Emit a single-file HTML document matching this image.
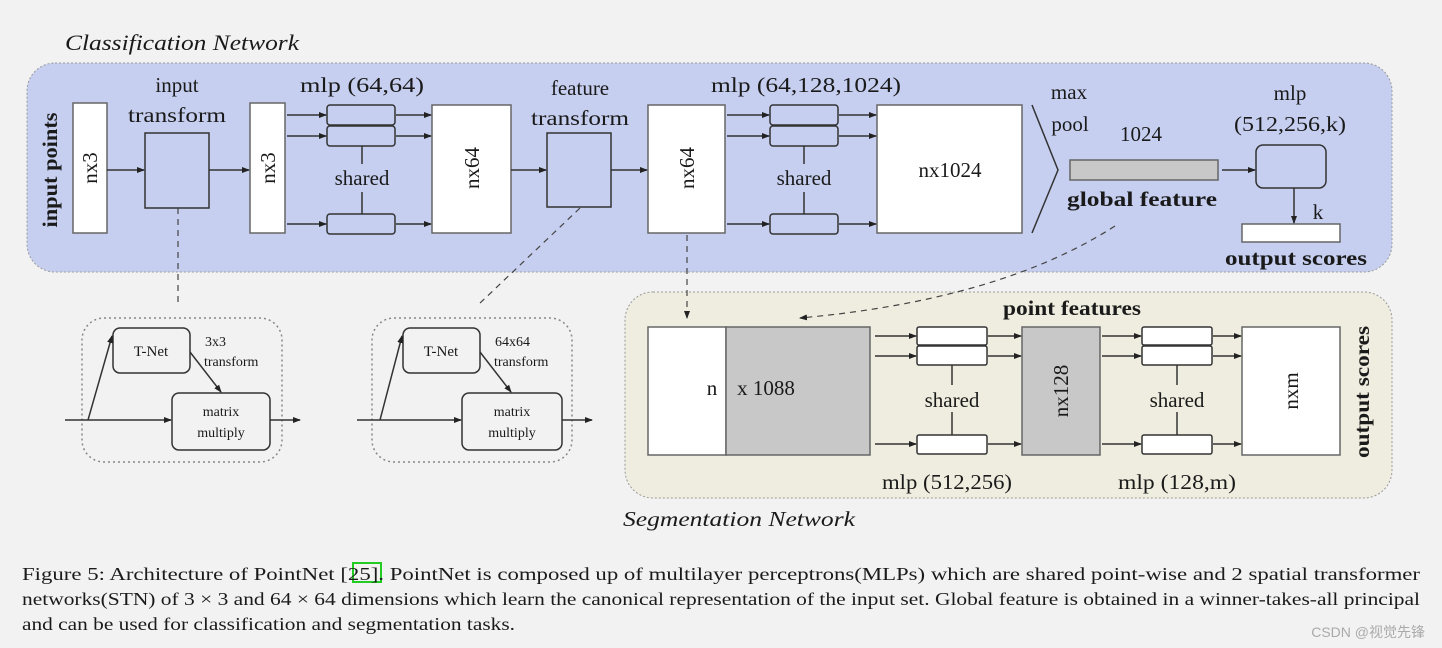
<!DOCTYPE html>
<html><head><meta charset="utf-8"><style>
html,body{margin:0;padding:0;background:#f2f2f2;}
svg{display:block;}
text{font-family:"Liberation Serif","Times New Roman",serif;fill:#1a1a1a;}
.b{font-weight:bold;}
</style></head><body>
<svg width="1442" height="648" viewBox="0 0 1442 648" xmlns="http://www.w3.org/2000/svg">
<defs>
<marker id="a" markerWidth="8" markerHeight="8" refX="7" refY="4" orient="auto" markerUnits="userSpaceOnUse"><path d="M0,1 L8,4 L0,7 z" fill="#222"/></marker>
</defs>
<rect width="1442" height="648" fill="#f2f2f2"/>
<text x="65" y="50" font-size="22" font-style="italic" textLength="234" lengthAdjust="spacingAndGlyphs">Classification Network</text>
<rect x="27" y="63" width="1365" height="209" rx="28" fill="#c6cff0" stroke="#999" stroke-dasharray="2,2"/>
<rect x="625" y="292" width="767" height="206" rx="28" fill="#efeddf" stroke="#999" stroke-dasharray="2,2"/>
<g stroke="#333" stroke-width="1.5" fill="none">
<rect x="73" y="103" width="34" height="130" fill="#fff" stroke="#666"/>
<rect x="145" y="133" width="64" height="75" fill="#c6cff0"/>
<rect x="250" y="103" width="35" height="130" fill="#fff" stroke="#666"/>
<rect x="327" y="105" width="68" height="20" rx="3" fill="#c6cff0"/>
<rect x="327" y="126" width="68" height="20" rx="3" fill="#c6cff0"/>
<rect x="327" y="214" width="68" height="20" rx="3" fill="#c6cff0"/>
<line x1="362" y1="146" x2="362" y2="164"/><line x1="362" y1="192" x2="362" y2="214"/>
<rect x="432" y="105" width="79" height="128" fill="#fff" stroke="#666"/>
<rect x="547" y="133" width="64" height="74" fill="#c6cff0"/>
<rect x="648" y="105" width="77" height="128" fill="#fff" stroke="#666"/>
<rect x="770" y="105" width="68" height="20" rx="3" fill="#c6cff0"/>
<rect x="770" y="126" width="68" height="20" rx="3" fill="#c6cff0"/>
<rect x="770" y="214" width="68" height="20" rx="3" fill="#c6cff0"/>
<line x1="804" y1="146" x2="804" y2="164"/><line x1="804" y1="192" x2="804" y2="214"/>
<rect x="877" y="105" width="145" height="128" fill="#fff" stroke="#666"/>
<polyline points="1032,105 1058,170 1032,233"/>
<rect x="1070" y="160" width="148" height="20" fill="#c8c8c8" stroke="#666"/>
<rect x="1256" y="145" width="70" height="43" rx="7" fill="#c6cff0"/>
<rect x="1242" y="224" width="98" height="18" fill="#fff" stroke="#666"/>
<line x1="107" y1="170" x2="144" y2="170" marker-end="url(#a)"/>
<line x1="209" y1="170" x2="249" y2="170" marker-end="url(#a)"/>
<line x1="287" y1="115" x2="326" y2="115" marker-end="url(#a)"/>
<line x1="287" y1="136" x2="326" y2="136" marker-end="url(#a)"/>
<line x1="287" y1="224" x2="326" y2="224" marker-end="url(#a)"/>
<line x1="396" y1="115" x2="431" y2="115" marker-end="url(#a)"/>
<line x1="396" y1="136" x2="431" y2="136" marker-end="url(#a)"/>
<line x1="396" y1="224" x2="431" y2="224" marker-end="url(#a)"/>
<line x1="511" y1="170" x2="546" y2="170" marker-end="url(#a)"/>
<line x1="611" y1="170" x2="647" y2="170" marker-end="url(#a)"/>
<line x1="727" y1="115" x2="769" y2="115" marker-end="url(#a)"/>
<line x1="727" y1="136" x2="769" y2="136" marker-end="url(#a)"/>
<line x1="727" y1="224" x2="769" y2="224" marker-end="url(#a)"/>
<line x1="839" y1="115" x2="876" y2="115" marker-end="url(#a)"/>
<line x1="839" y1="136" x2="876" y2="136" marker-end="url(#a)"/>
<line x1="839" y1="224" x2="876" y2="224" marker-end="url(#a)"/>
<line x1="1222" y1="170" x2="1255" y2="170" marker-end="url(#a)"/>
<line x1="1294" y1="188" x2="1294" y2="223" marker-end="url(#a)"/>
<g stroke-dasharray="6,5" stroke="#444" stroke-width="1.2">
<line x1="178" y1="208" x2="178" y2="302"/>
<line x1="580" y1="208" x2="478" y2="305"/>
<line x1="687" y1="235" x2="687" y2="318" marker-end="url(#a)"/>
<path d="M1115,226 Q1000,300 800,318" marker-end="url(#a)"/>
</g>
<rect x="82" y="318" width="200" height="144" rx="22" stroke="#888" stroke-dasharray="2,3"/>
<rect x="113" y="328" width="77" height="45" rx="7" fill="#f2f2f2"/>
<rect x="172" y="393" width="98" height="57" rx="7" fill="#f2f2f2"/>
<line x1="65" y1="420" x2="171" y2="420" marker-end="url(#a)"/>
<line x1="88" y1="420" x2="112" y2="336" marker-end="url(#a)"/>
<line x1="190" y1="352" x2="221" y2="392" marker-end="url(#a)"/>
<line x1="270" y1="420" x2="300" y2="420" marker-end="url(#a)"/>
<rect x="372" y="318" width="200" height="144" rx="22" stroke="#888" stroke-dasharray="2,3"/>
<rect x="403" y="328" width="77" height="45" rx="7" fill="#f2f2f2"/>
<rect x="462" y="393" width="100" height="57" rx="7" fill="#f2f2f2"/>
<line x1="357" y1="420" x2="461" y2="420" marker-end="url(#a)"/>
<line x1="380" y1="420" x2="402" y2="336" marker-end="url(#a)"/>
<line x1="480" y1="352" x2="511" y2="392" marker-end="url(#a)"/>
<line x1="562" y1="420" x2="592" y2="420" marker-end="url(#a)"/>
<rect x="648" y="327" width="78" height="128" fill="#fff" stroke="#666"/>
<rect x="726" y="327" width="144" height="128" fill="#c8c8c8" stroke="#666"/>
<rect x="917" y="327" width="70" height="18" rx="2" fill="#fff"/>
<rect x="917" y="346" width="70" height="19" rx="2" fill="#fff"/>
<rect x="917" y="435" width="70" height="19" rx="2" fill="#fff"/>
<line x1="952" y1="365" x2="952" y2="385"/><line x1="952" y1="412" x2="952" y2="435"/>
<rect x="1022" y="327" width="78" height="128" fill="#c8c8c8" stroke="#666"/>
<rect x="1142" y="327" width="70" height="18" rx="2" fill="#fff"/>
<rect x="1142" y="346" width="70" height="19" rx="2" fill="#fff"/>
<rect x="1142" y="435" width="70" height="19" rx="2" fill="#fff"/>
<line x1="1177" y1="365" x2="1177" y2="385"/><line x1="1177" y1="412" x2="1177" y2="435"/>
<rect x="1242" y="327" width="98" height="128" fill="#fff" stroke="#666"/>
<line x1="875" y1="336" x2="916" y2="336" marker-end="url(#a)"/>
<line x1="875" y1="356" x2="916" y2="356" marker-end="url(#a)"/>
<line x1="875" y1="444" x2="916" y2="444" marker-end="url(#a)"/>
<line x1="988" y1="336" x2="1021" y2="336" marker-end="url(#a)"/>
<line x1="988" y1="356" x2="1021" y2="356" marker-end="url(#a)"/>
<line x1="988" y1="444" x2="1021" y2="444" marker-end="url(#a)"/>
<line x1="1102" y1="336" x2="1141" y2="336" marker-end="url(#a)"/>
<line x1="1102" y1="356" x2="1141" y2="356" marker-end="url(#a)"/>
<line x1="1102" y1="444" x2="1141" y2="444" marker-end="url(#a)"/>
<line x1="1213" y1="336" x2="1241" y2="336" marker-end="url(#a)"/>
<line x1="1213" y1="356" x2="1241" y2="356" marker-end="url(#a)"/>
<line x1="1213" y1="444" x2="1241" y2="444" marker-end="url(#a)"/>
</g>
<g font-size="21" text-anchor="middle">
<text x="50" y="170" class="b" transform="rotate(-90 50 170)" dy="7" textLength="115" lengthAdjust="spacingAndGlyphs">input points</text>
<text x="90" y="168" transform="rotate(-90 90 168)" dy="7">nx3</text>
<text x="268" y="168" transform="rotate(-90 268 168)" dy="7">nx3</text>
<text x="472" y="168" transform="rotate(-90 472 168)" dy="7">nx64</text>
<text x="687" y="168" transform="rotate(-90 687 168)" dy="7">nx64</text>
<text x="177" y="92">input</text>
<text x="177" y="122" textLength="98" lengthAdjust="spacingAndGlyphs">transform</text>
<text x="362" y="92" textLength="124" lengthAdjust="spacingAndGlyphs">mlp (64,64)</text>
<text x="362" y="185">shared</text>
<text x="580" y="95">feature</text>
<text x="580" y="125" textLength="98" lengthAdjust="spacingAndGlyphs">transform</text>
<text x="806" y="92" textLength="190" lengthAdjust="spacingAndGlyphs">mlp (64,128,1024)</text>
<text x="804" y="185">shared</text>
<text x="950" y="177">nx1024</text>
<text x="1069" y="99">max</text>
<text x="1070" y="131">pool</text>
<text x="1141" y="141">1024</text>
<text x="1142" y="206" class="b" textLength="150" lengthAdjust="spacingAndGlyphs">global feature</text>
<text x="1290" y="100">mlp</text>
<text x="1290" y="131" textLength="112" lengthAdjust="spacingAndGlyphs">(512,256,k)</text>
<text x="1318" y="219">k</text>
<text x="1296" y="265" class="b" textLength="142" lengthAdjust="spacingAndGlyphs">output scores</text>
<text x="1072" y="315" class="b" textLength="138" lengthAdjust="spacingAndGlyphs">point features</text>
<text x="712" y="395">n</text>
<text x="766" y="395">x 1088</text>
<text x="952" y="407">shared</text>
<text x="1177" y="407">shared</text>
<text x="1061" y="391" transform="rotate(-90 1061 391)" dy="7">nx128</text>
<text x="1291" y="391" transform="rotate(-90 1291 391)" dy="7">nxm</text>
<text x="1362" y="392" class="b" transform="rotate(-90 1362 392)" dy="7" textLength="132" lengthAdjust="spacingAndGlyphs">output scores</text>
<text x="947" y="489" textLength="130" lengthAdjust="spacingAndGlyphs">mlp (512,256)</text>
<text x="1177" y="489" textLength="118" lengthAdjust="spacingAndGlyphs">mlp (128,m)</text>
</g>
<g font-size="14">
<text x="151" y="356" text-anchor="middle" font-size="15">T-Net</text>
<text x="205" y="346">3x3</text>
<text x="204" y="366">transform</text>
<text x="221" y="416" text-anchor="middle">matrix</text>
<text x="221" y="437" text-anchor="middle">multiply</text>
<text x="441" y="356" text-anchor="middle" font-size="15">T-Net</text>
<text x="495" y="346">64x64</text>
<text x="494" y="366">transform</text>
<text x="512" y="416" text-anchor="middle">matrix</text>
<text x="512" y="437" text-anchor="middle">multiply</text>
</g>
<text x="623" y="526" font-size="21" font-style="italic" textLength="232" lengthAdjust="spacingAndGlyphs">Segmentation Network</text>
<rect x="353" y="563" width="28" height="19" fill="none" stroke="#22cc22" stroke-width="2"/>
<g font-size="18">
<text x="22" y="580" textLength="1398" lengthAdjust="spacingAndGlyphs">Figure 5:  Architecture of PointNet   [25].  PointNet is composed up of multilayer perceptrons(MLPs) which are shared point-wise and 2 spatial transformer</text>
<text x="22" y="605" textLength="1398" lengthAdjust="spacingAndGlyphs">networks(STN) of 3 × 3 and 64 × 64 dimensions which learn the canonical representation of the input set. Global feature is obtained in a winner-takes-all principal</text>
<text x="22" y="630" textLength="493" lengthAdjust="spacingAndGlyphs">and can be used for classification and segmentation tasks.</text>
</g>
<text x="1425" y="637" font-size="14" text-anchor="end" style="font-family:'Liberation Sans','Noto Sans CJK SC',sans-serif;fill:#aaa">CSDN @视觉先锋</text>
</svg>
</body></html>
